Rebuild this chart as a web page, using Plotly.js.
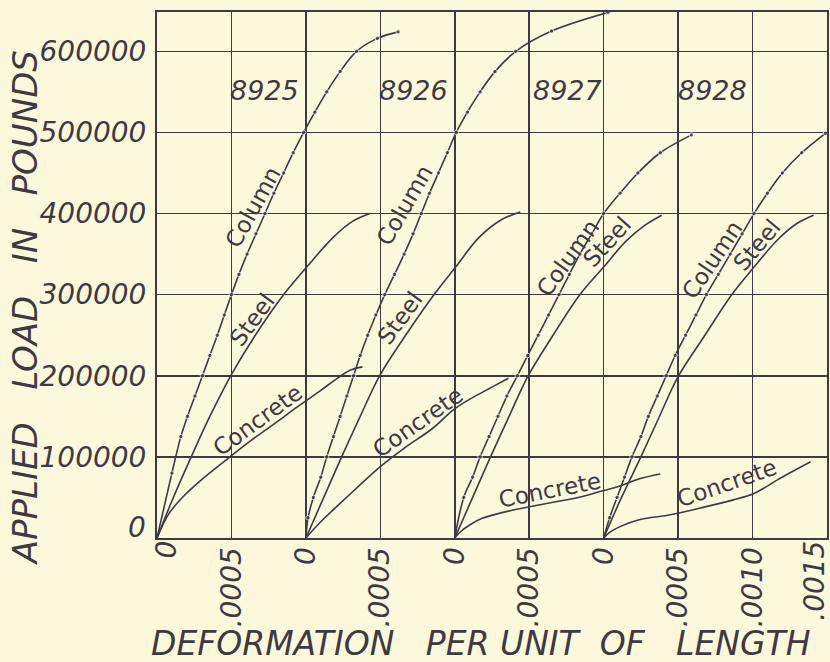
<!DOCTYPE html>
<html>
<head>
<meta charset="utf-8">
<script src="https://cdn.plot.ly/plotly-3.0.1.min.js"></script>
<style>
  html, body { margin: 0; padding: 0; background: #fcf8dc; }
  #chart { width: 830px; height: 662px; }
</style>
</head>
<body>
<div id="chart"></div>
<script>
// Specimen numbers, one group of curves each
const specimens = ['8925', '8926', '8927', '8928'];

// Deformation per unit of length (measured from each specimen's own zero) and applied load in pounds
const column8925Strain = [0, 0.000100, 0.000160, 0.000205, 0.000255, 0.000305, 0.000355, 0.000405, 0.000452, 0.000500, 0.000550, 0.000605, 0.000665, 0.000725, 0.000785, 0.000850, 0.000915, 0.000985, 0.00106, 0.00114, 0.00123, 0.00134, 0.00148, 0.00162];
const column8925Load   = [0, 80000, 125000, 150000, 175000, 200000, 225000, 250000, 275000, 300000, 325000, 350000, 375000, 400000, 425000, 450000, 475000, 500000, 525000, 550000, 575000, 600000, 616000, 624000];
const steel8925Strain  = [0, 0.00011, 0.00023, 0.00035, 0.000495, 0.00066, 0.00085, 0.00101, 0.00118, 0.00131, 0.00143];
const steel8925Load    = [0, 50000, 100000, 148000, 200000, 250000, 300000, 335000, 370000, 390000, 400000];
const concrete8925Strain = [0, 0.00008, 0.00017, 0.00030, 0.00049, 0.00063, 0.00085, 0.00093, 0.00110, 0.00122, 0.00130, 0.00138];
const concrete8925Load   = [0, 30000, 50000, 72000, 100000, 120000, 149000, 160000, 182000, 198000, 207000, 211000];

const column8926Strain = [0, 0.000015, 0.00005, 0.00010, 0.00014, 0.000185, 0.00023, 0.000275, 0.00032, 0.000365, 0.000415, 0.00047, 0.00053, 0.000595, 0.00066, 0.00072, 0.000775, 0.00083, 0.00089, 0.00095, 0.00101, 0.001085, 0.00117, 0.00127, 0.00141, 0.00165, 0.00203];
const column8926Load   = [0, 25000, 50000, 75000, 100000, 125000, 150000, 175000, 200000, 225000, 250000, 275000, 300000, 325000, 350000, 375000, 400000, 425000, 450000, 475000, 500000, 525000, 550000, 575000, 600000, 625000, 648000];
const steel8926Strain  = [0, 0.00012, 0.00024, 0.00036, 0.000495, 0.00067, 0.00086, 0.00101, 0.00116, 0.00131, 0.00144];
const steel8926Load    = [0, 50000, 100000, 148000, 200000, 250000, 300000, 335000, 370000, 392000, 402000];
const concrete8926Strain = [0, 0.00010, 0.00025, 0.00050, 0.00067, 0.00085, 0.00099, 0.00109, 0.00125, 0.00136];
const concrete8926Load   = [0, 20000, 46000, 88000, 112000, 135000, 158000, 170000, 186000, 197000];

const column8927Strain = [0, 0.00006, 0.00012, 0.00017, 0.00023, 0.00029, 0.00035, 0.00042, 0.00049, 0.00056, 0.00063, 0.00070, 0.00077, 0.00084, 0.00092, 0.00100, 0.00111, 0.00123, 0.00138, 0.00159];
const column8927Load   = [0, 50000, 75000, 100000, 125000, 150000, 175000, 200000, 225000, 250000, 275000, 300000, 325000, 350000, 375000, 400000, 425000, 450000, 475000, 497000];
const steel8927Strain  = [0, 0.00012, 0.00024, 0.00036, 0.00049, 0.00066, 0.00084, 0.00100, 0.00115, 0.00128, 0.00139];
const steel8927Load    = [0, 50000, 100000, 148000, 199000, 250000, 300000, 334000, 366000, 386000, 398000];
const concrete8927Strain = [0, 0.00004, 0.00010, 0.00018, 0.00038, 0.00060, 0.00083, 0.00097, 0.00111, 0.00124, 0.00138];
const concrete8927Load   = [0, 8000, 16000, 24000, 34000, 42000, 50000, 57000, 64000, 73000, 79000];

const column8928Strain = [0, 0.00004, 0.00009, 0.00014, 0.00019, 0.00025, 0.00030, 0.00036, 0.00042, 0.00048, 0.00055, 0.00062, 0.00069, 0.00077, 0.00085, 0.00093, 0.00101, 0.00110, 0.00120, 0.00133, 0.00149];
const column8928Load   = [0, 25000, 50000, 75000, 100000, 125000, 150000, 175000, 200000, 225000, 250000, 275000, 300000, 325000, 350000, 375000, 400000, 425000, 450000, 475000, 499000];
const steel8928Strain  = [0, 0.00012, 0.00025, 0.00037, 0.00050, 0.00068, 0.00086, 0.00101, 0.00117, 0.00130, 0.00141];
const steel8928Load    = [0, 50000, 100000, 148000, 199000, 250000, 300000, 334000, 368000, 388000, 398000];
const concrete8928Strain = [0, 0.00004, 0.00011, 0.00025, 0.00043, 0.00065, 0.00087, 0.00101, 0.00109, 0.00117, 0.00139];
const concrete8928Load   = [0, 7000, 14000, 23000, 28000, 37000, 47000, 55000, 63000, 72000, 94000];

// Load ticks and deformation tick labels (each specimen restarts at 0)
const loadTicks = [100000, 200000, 300000, 400000, 500000, 600000];
const strainTickText = ['0', '.0005', '0', '.0005', '0', '.0005', '0', '.0005', '.0010', '.0015'];

// ---- drawing ----
const INK = '#3e3a44';
const PAPER = '#fcf8dc';
const FONT = '"DejaVu Sans", "Liberation Sans", sans-serif';
const STEP = 0.0005;
const groupShift = 0.001;          // each specimen's zero sits two divisions to the right of the last

const series = [
  [column8925Strain, column8925Load, steel8925Strain, steel8925Load, concrete8925Strain, concrete8925Load],
  [column8926Strain, column8926Load, steel8926Strain, steel8926Load, concrete8926Strain, concrete8926Load],
  [column8927Strain, column8927Load, steel8927Strain, steel8927Load, concrete8927Strain, concrete8927Load],
  [column8928Strain, column8928Load, steel8928Strain, steel8928Load, concrete8928Strain, concrete8928Load]
];

function curve(strain, load, origin, dotted, name) {
  const trace = {
    type: 'scatter',
    mode: dotted ? 'lines+markers' : 'lines',
    name: name,
    x: strain.map(v => v + origin),
    y: load,
    line: { color: INK, width: 1.6, shape: 'spline', smoothing: 1 },
    cliponaxis: true,
    hoverinfo: 'skip'
  };
  if (dotted) {
    // the first reading sits at the origin and carries no dot
    trace.marker = { color: INK, size: strain.map((v, i) => i === 0 ? 0 : 4.5) };
  }
  return trace;
}

const traces = [];
series.forEach((s, g) => {
  const origin = g * groupShift;
  traces.push(curve(s[0], s[1], origin, true, specimens[g] + ' Column'));
  traces.push(curve(s[2], s[3], origin, false, specimens[g] + ' Steel'));
  traces.push(curve(s[4], s[5], origin, false, specimens[g] + ' Concrete'));
});
// empty traces that carry the two end-label x axes
traces.push({ type: 'scatter', x: [], y: [], xaxis: 'x2', yaxis: 'y', hoverinfo: 'skip', showlegend: false });
traces.push({ type: 'scatter', x: [], y: [], xaxis: 'x3', yaxis: 'y', hoverinfo: 'skip', showlegend: false });

const lastTick = strainTickText.length - 1;
const strainTicks = strainTickText.map((t, i) => i * STEP);
// the first and last labels are nudged inward on their own axes
const mainTickText = strainTickText.map((t, i) => (i === 0 || i === lastTick) ? '' : t);

// curve names written along the curves: [text, specimen index, strain from zero, load, angle]
const curveLabels = [
  ['Column', 0, 0.000645, 408000, -61], ['Steel', 0, 0.000638, 269000, -54], ['Concrete', 0, 0.000678, 145000, -36],
  ['Column', 1, 0.000666, 410000, -60], ['Steel', 1, 0.000632, 271000, -54], ['Concrete', 1, 0.000753, 143000, -35],
  ['Column', 2, 0.000760, 345000, -54], ['Steel', 2, 0.001022, 365000, -48], ['Concrete', 2, 0.000640, 59000, -11],
  ['Column', 3, 0.000727, 343000, -56], ['Steel', 3, 0.001030, 361000, -50], ['Concrete', 3, 0.000828, 68000, -19]
];

const annotations = [];
curveLabels.forEach(([text, g, dx, load, ang]) => {
  annotations.push({
    xref: 'x', yref: 'y', x: g * groupShift + dx, y: load,
    xanchor: 'center', yanchor: 'middle',
    text: text, textangle: ang, showarrow: false,
    font: { family: FONT, size: 23, color: INK }
  });
});

// specimen numbers above each group
const specimenLabelShift = [0.000725, 0.00072, 0.000754, 0.000728];
specimens.forEach((s, g) => {
  annotations.push({
    xref: 'x', yref: 'y', x: g * groupShift + specimenLabelShift[g], y: 552000,
    xanchor: 'center', yanchor: 'middle',
    text: s, showarrow: false,
    font: { family: FONT, size: 27, color: INK, style: 'italic' }
  });
});

// zero of the load scale, lifted clear of the deformation labels
annotations.push({
  xref: 'paper', yref: 'y', x: 0, y: 13500, xanchor: 'right', yanchor: 'middle', xshift: -9,
  text: '0', showarrow: false,
  font: { family: FONT, size: 28, color: INK, style: 'italic' }
});

// axis titles
annotations.push({
  xref: 'paper', yref: 'paper', x: -0.197, y: 0.437, xanchor: 'center', yanchor: 'middle',
  text: 'APPLIED\u00a0\u00a0 LOAD\u00a0\u00a0 IN\u00a0\u00a0 POUNDS', textangle: -90, showarrow: false,
  font: { family: FONT, size: 34, color: INK, style: 'italic' }
});
annotations.push({
  xref: 'paper', yref: 'paper', x: 0.484, y: (538 - 643) / 526, xanchor: 'center', yanchor: 'middle',
  text: 'DEFORMATION\u00a0\u00a0 PER UNIT\u00a0 OF\u00a0\u00a0 LENGTH', showarrow: false,
  font: { family: FONT, size: 33, color: INK, style: 'italic' }
});

const tickFont = { family: FONT, size: 28, color: INK, style: 'italic' };

function endLabelAxis(i, shift) {
  return {
    overlaying: 'x', side: 'bottom', anchor: 'y',
    range: [0, 9 * STEP], autorange: false,
    tickvals: [strainTicks[i]], ticktext: [strainTickText[i]], tickangle: -90,
    ticks: '', ticklabelstandoff: -4, ticklabelshift: shift, ticklabeloverflow: 'allow',
    tickfont: tickFont,
    showgrid: false, showline: false, zeroline: false, fixedrange: true
  };
}

const layout = {
  width: 830, height: 662, autosize: false,
  margin: { l: 157, r: 3, t: 12, b: 124, pad: 0 },
  paper_bgcolor: PAPER, plot_bgcolor: PAPER,
  showlegend: false,
  xaxis: {
    range: [0, 9 * STEP], autorange: false,
    tickvals: strainTicks, ticktext: mainTickText, tickangle: -90,
    ticks: '', ticklabelstandoff: -4, ticklabeloverflow: 'allow',
    tickfont: tickFont,
    showgrid: true, gridcolor: INK, gridwidth: 1.6,
    showline: true, mirror: true, linecolor: INK, linewidth: 2,
    zeroline: false, fixedrange: true
  },
  xaxis2: endLabelAxis(lastTick, -12),
  xaxis3: endLabelAxis(0, 10),
  yaxis: {
    range: [0, 648500], autorange: false,
    tickvals: loadTicks, tickformat: 'd',
    ticks: '', ticklabelstandoff: 3,
    tickfont: tickFont,
    showgrid: true, gridcolor: INK, gridwidth: 1.6,
    showline: true, mirror: true, linecolor: INK, linewidth: 2,
    zeroline: false, fixedrange: true
  },
  annotations: annotations
};

Plotly.newPlot('chart', traces, layout, { displayModeBar: false, staticPlot: true });
</script>
</body>
</html>
